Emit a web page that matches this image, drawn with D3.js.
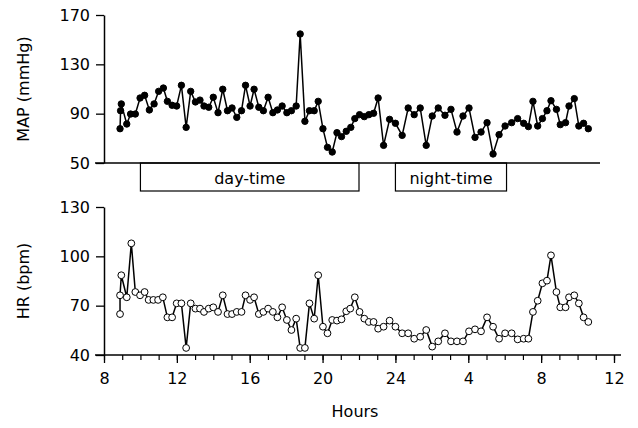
<!DOCTYPE html>
<html>
<head>
<meta charset="utf-8">
<script src="https://cdn.jsdelivr.net/npm/d3@7"></script>
<style>
  body { margin: 0; background: #fff; }
  text { font-family: "DejaVu Sans", sans-serif; fill: #000; }
</style>
</head>
<body>
<svg id="chart" width="638" height="428"></svg>
<script>
// MAP series (hours since midnight of day 1)
const mapHours = [8.88, 8.91, 8.95, 9.25, 9.46, 9.72, 9.98, 10.23, 10.49, 10.75, 11.0, 11.26, 11.48, 11.74, 11.99,
  12.25, 12.51, 12.76, 13.02, 13.27, 13.49, 13.75, 14.0, 14.26, 14.52, 14.78, 15.03, 15.29, 15.55, 15.77, 16.02,
  16.24, 16.5, 16.75, 17.01, 17.27, 17.52, 17.78, 18.04, 18.29, 18.55, 18.77, 19.03, 19.28, 19.54, 19.76, 20.02,
  20.27, 20.53, 20.79, 21.04, 21.30, 21.55];
const mapDay = [77.8, 92.4, 97.9, 81.6, 89.7, 89.7, 102.7, 104.9, 93, 97.9, 108.1, 110.8, 100, 96.8, 96.2,
  113, 78.9, 108.1, 99.5, 101, 96.2, 95.2, 103.3, 90.8, 109.8, 92.4, 94.6, 87, 92.4, 113, 96.2,
  109.8, 95.2, 92.4, 103.3, 90.8, 93, 96.2, 90.8, 92.4, 96.2, 154.6, 83.8, 92.4, 92.4, 100, 77.8,
  62.7, 58.9, 74.6, 71.4, 75.7, 78.9];

// HR series, day part
const hrHours = [8.88, 8.88, 8.95, 9.25, 9.50, 9.72, 9.98, 10.23, 10.45, 10.71, 10.97, 11.23, 11.48, 11.74, 11.99,
  12.25, 12.51, 12.76, 13.02, 13.27, 13.49, 13.75, 14.0, 14.26, 14.52, 14.78, 15.03, 15.29, 15.55, 15.77, 16.02,
  16.24, 16.5, 16.75, 17.01, 17.27, 17.52, 17.78, 18.04, 18.29, 18.55, 18.77, 19.03, 19.28, 19.54, 19.76, 20.02,
  20.27, 20.53, 20.79, 21.04, 21.30, 21.52];
const hrDay = [64.9, 76.3, 88.5, 75.1, 107.9, 78.3, 76.3, 78.3, 73.5, 73.5, 73.5, 75.1, 62.9, 62.9, 71.4,
  71.4, 44.3, 71.4, 68.2, 68.2, 66.2, 68.2, 69, 66.2, 76.3, 64.9, 64.9, 66.2, 66.2, 76.3, 73.5,
  75.1, 64.9, 66.2, 68.2, 66.2, 62.9, 69, 61.3, 55.2, 62.1, 44.3, 44.3, 71.4, 62.1, 88.5, 57.2,
  53.2, 61.3, 60.9, 61.7, 66.6, 68.2];

// shared sample times for the evening / night part
const nightHours = [21.77, 22.03, 22.29, 22.54, 22.8, 23.05, 23.35, 23.68, 24.0, 24.37, 24.7, 25.03, 25.36, 25.69,
  26.02, 26.35, 26.72, 27.05, 27.38, 27.71, 28.04, 28.37, 28.70, 29.03, 29.36, 29.69, 30.02, 30.38, 30.71,
  31.04, 31.3, 31.55, 31.81, 32.07, 32.32, 32.54, 32.84, 33.05, 33.34, 33.53, 33.82, 34.07, 34.33, 34.59];
const mapNight = [86, 89.2, 87.6, 89.2, 90.3, 102.7, 64.3, 85.4, 82.2, 72.4, 94.6, 89.2, 94.6, 64.3,
  88.1, 94.6, 88.7, 93.5, 75.1, 88.1, 94.6, 70.8, 75.1, 82.7, 57.3, 73, 80, 82.7, 86,
  82.2, 79.5, 100, 80, 86, 92.4, 100.5, 93.5, 81.1, 82.7, 96.2, 102.2, 80, 82.2, 77.8];
const hrNight = [75.1, 66.2, 62.1, 60.1, 60.1, 56, 57.2, 60.9, 57.2, 53.2, 53.2, 49.9, 51.1, 55.2,
  45.1, 48.3, 53.2, 48.3, 48.3, 48.3, 54.4, 55.6, 54.4, 62.9, 57.2, 49.9, 53.2, 53.2, 49.5,
  49.9, 49.9, 66.2, 73, 83.6, 85.2, 100.6, 78.3, 69, 69, 75.1, 76.3, 71.4, 62.9, 60.1];

const mapTicks = [50, 90, 130, 170];
const hrTicks = [40, 70, 100, 130];
const hourTicks = [8, 12, 16, 20, 24, 28, 32, 36];
const hourLabels = ["8", "12", "16", "20", "24", "4", "8", "12"];
const periods = [
  { label: "day-time", from: 10, to: 22 },
  { label: "night-time", from: 24, to: 30.1 }
];

const svg = d3.select("#chart");
const x = d3.scaleLinear().domain([8, 36]).range([104, 614]);
const yMap = d3.scaleLinear().domain([50, 170]).range([163, 15]);
const yHr = d3.scaleLinear().domain([40, 130]).range([355, 207]);

const mapData = mapHours.map((h, i) => [h, mapDay[i]])
  .concat(nightHours.map((h, i) => [h, mapNight[i]]));
const hrData = hrHours.map((h, i) => [h, hrDay[i]])
  .concat(nightHours.map((h, i) => [h, hrNight[i]]));

function drawPanel(y, ticks, data, label, filled, yMid) {
  // left axis
  const ax = svg.append("g").attr("transform", "translate(104,0)")
    .call(d3.axisLeft(y).tickValues(ticks).tickSize(8).tickPadding(6).tickSizeOuter(0));
  ax.select(".domain").attr("stroke", "#000").attr("stroke-width", 1.5);
  ax.selectAll(".tick line").attr("stroke-width", 1.3);
  ax.selectAll("text").style("font-size", "16px");

  svg.append("text")
    .attr("transform", `translate(29,${yMid}) rotate(-90)`)
    .attr("text-anchor", "middle")
    .style("font-size", "16px")
    .text(label);

  const line = d3.line().x(d => x(d[0])).y(d => y(d[1]));
  svg.append("path").datum(data)
    .attr("d", line).attr("fill", "none").attr("stroke", "#000").attr("stroke-width", 1.5);
  svg.append("g").selectAll("circle").data(data).join("circle")
    .attr("cx", d => x(d[0])).attr("cy", d => y(d[1]))
    .attr("r", filled ? 3.2 : 3.4)
    .attr("fill", filled ? "#000" : "#fff")
    .attr("stroke", "#000").attr("stroke-width", 1);
}

drawPanel(yMap, mapTicks, mapData, "MAP (mmHg)", true, 89);
drawPanel(yHr, hrTicks, hrData, "HR (bpm)", false, 281);

// top panel baseline
svg.append("line").attr("x1", 95).attr("x2", 600).attr("y1", 163).attr("y2", 163)
  .attr("stroke", "#000").attr("stroke-width", 1.5);

// period boxes
periods.forEach(p => {
  svg.append("rect")
    .attr("x", x(p.from)).attr("y", 163)
    .attr("width", x(p.to) - x(p.from)).attr("height", 28)
    .attr("fill", "none").attr("stroke", "#000").attr("stroke-width", 1.2);
  svg.append("text")
    .attr("x", (x(p.from) + x(p.to)) / 2).attr("y", 184)
    .attr("text-anchor", "middle").style("font-size", "16px")
    .text(p.label);
});

// bottom x axis: minor ticks every hour, labels every 4 hours
const xa = svg.append("g").attr("transform", "translate(0,355)")
  .call(d3.axisBottom(x).tickValues(d3.range(8, 37)).tickSize(5).tickSizeOuter(0).tickFormat(""));
xa.select(".domain").attr("stroke-width", 1.5).attr("d", "M95,0H621");
xa.selectAll(".tick line").attr("stroke-width", 1.2);
const xm = svg.append("g").attr("transform", "translate(0,355)")
  .call(d3.axisBottom(x).tickValues(hourTicks).tickSize(8).tickPadding(10)
    .tickFormat((d, i) => hourLabels[i]));
xm.select(".domain").remove();
xm.selectAll(".tick line").attr("stroke-width", 1.3);
xm.selectAll("text").style("font-size", "16px");

svg.append("text").attr("x", 355).attr("y", 417).attr("text-anchor", "middle")
  .style("font-size", "16px").text("Hours");
</script>
</body>
</html>
